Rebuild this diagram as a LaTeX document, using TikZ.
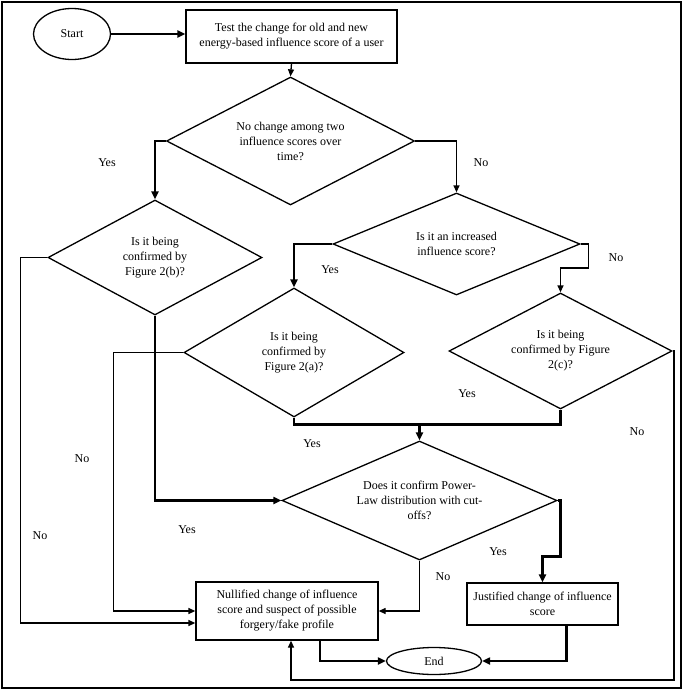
\documentclass[tikz,border=0pt]{standalone}
\usepackage{fontspec}
\setmainfont{Liberation Serif}
\usetikzlibrary{positioning}
\usetikzlibrary{shapes.geometric}
\usetikzlibrary{arrows.meta}
\usetikzlibrary{calc}

\begin{document}
\begin{tikzpicture}[x = 1pt, y = -1pt, font = \fontsize{12}{15}\selectfont,
		box/.style = {draw, rectangle, line width = 1.3pt, align = center, inner sep = 0pt},
		decision/.style = {draw, diamond, line width = 1.3pt, align = center, inner sep = 0pt},
		terminal/.style = {draw, ellipse, line width = 1.3pt, inner sep = 0pt},
		flow/.style = {line width = 1.3pt, -{Triangle[length = 7pt, width = 6pt]}},
		bold/.style = {line width = 2.4pt, -{Triangle[length = 8pt, width = 7pt]}},
		boldline/.style = {line width = 2.4pt},
		lbl/.style = {inner sep = 0pt}]
		\useasboundingbox (0,0) rectangle (685,696);
		\draw[line width = 1.2pt] (2,2) rectangle (681,688);
		% terminals and boxes
		\node[terminal, minimum width = 77pt, minimum height = 51pt] at (72,34) (start) {Start};
		\node[box, minimum width = 211pt, minimum height = 53pt] at (291.5,36.5) (test) {Test the change for old and new\\energy-based influence score of a user};
		\node[box, minimum width = 182pt, minimum height = 58pt] at (287,611) (null) {Nullified change of influence\\score and suspect of possible\\forgery/fake profile};
		\node[box, minimum width = 151pt, minimum height = 42pt] at (542.5,604) (just) {Justified change of influence\\score};
		\node[terminal, minimum width = 95pt, minimum height = 27pt] at (434,661) (fin) {End};
		% decisions
		\node[decision, aspect = 1.94, minimum width = 248pt, minimum height = 128pt] at (290.5,141) (q1) {No change among two\\influence scores over\\time?};
		\node[decision, aspect = 1.86, minimum width = 214pt, minimum height = 115pt] at (155,257.5) (q2) {Is it being\\confirmed by\\Figure 2(b)?};
		\node[decision, aspect = 2.42, minimum width = 247pt, minimum height = 102pt] at (456.5,244) (q3) {Is it an increased\\influence score?};
		\node[decision, aspect = 1.7, minimum width = 220pt, minimum height = 129pt] at (294,352.5) (q4) {Is it being\\confirmed by\\Figure 2(a)?};
		\node[decision, aspect = 1.92, minimum width = 223pt, minimum height = 116pt] at (560.5,351) (q6) {Is it being\\confirmed by Figure\\2(c)?};
		\node[decision, aspect = 2.31, minimum width = 275pt, minimum height = 119pt] at (419.5,500.5) (q5) {Does it confirm Power-\\Law distribution with cut-\\offs?};
		% branch labels
		\node[lbl] at (107,163) (y1) {Yes};
		\node[lbl] at (481,163) (n1) {No};
		\node[lbl] at (330,270) (y3) {Yes};
		\node[lbl] at (616,258) (n3) {No};
		\node[lbl] at (467,394) (y6) {Yes};
		\node[lbl] at (637,432) (n6) {No};
		\node[lbl] at (312,444) (y4) {Yes};
		\node[lbl] at (82,459) (n4) {No};
		\node[lbl] at (187,530) (y2) {Yes};
		\node[lbl] at (40,536) (n2) {No};
		\node[lbl] at (498,552) (y5) {Yes};
		\node[lbl] at (443,577) (n5) {No};
		% connectors
		\coordinate (join) at ($(q5.north) + (0,-16)$);
		\coordinate (ret) at (674,680);
		\draw[bold] (start.east) -- (start.east -| test.west);
		\draw[flow] (test.south) -- (q1.north);
		\draw[bold] (q1.west) -| (q2.north);
		\draw[flow] (q1.east) -| (q3.north);
		\draw[flow] (q2.west) -- ++(-27,0) |- ([yshift = -12pt]null.west);
		\draw[bold] (q2.south) |- (q5.west);
		\draw[bold] (q3.west) -| (q4.north);
		\draw[flow] (q3.east) -- ++(8,0) -- ++(0,24) -| (q6.north);
		\draw[flow] (q4.west) -- ++(-70,0) |- (null.west);
		\draw[boldline] (q4.south) |- (join);
		\draw[boldline] (q6.south) |- (join);
		\draw[bold] (join) -- (q5.north);
		\draw[flow] (q6.east) -| (ret) -| ([xshift = 4pt]null.south);
		\draw[bold] (q5.east) -- ++(3,0) -- ++(0,56) -| (just.north);
		\draw[flow] (q5.south) |- (null.east);
		\draw[bold] ([xshift = 33pt]null.south) |- (fin.west);
		\draw[bold] ([xshift = 24pt]just.south) |- (fin.east);
	\end{tikzpicture}
\end{document}
